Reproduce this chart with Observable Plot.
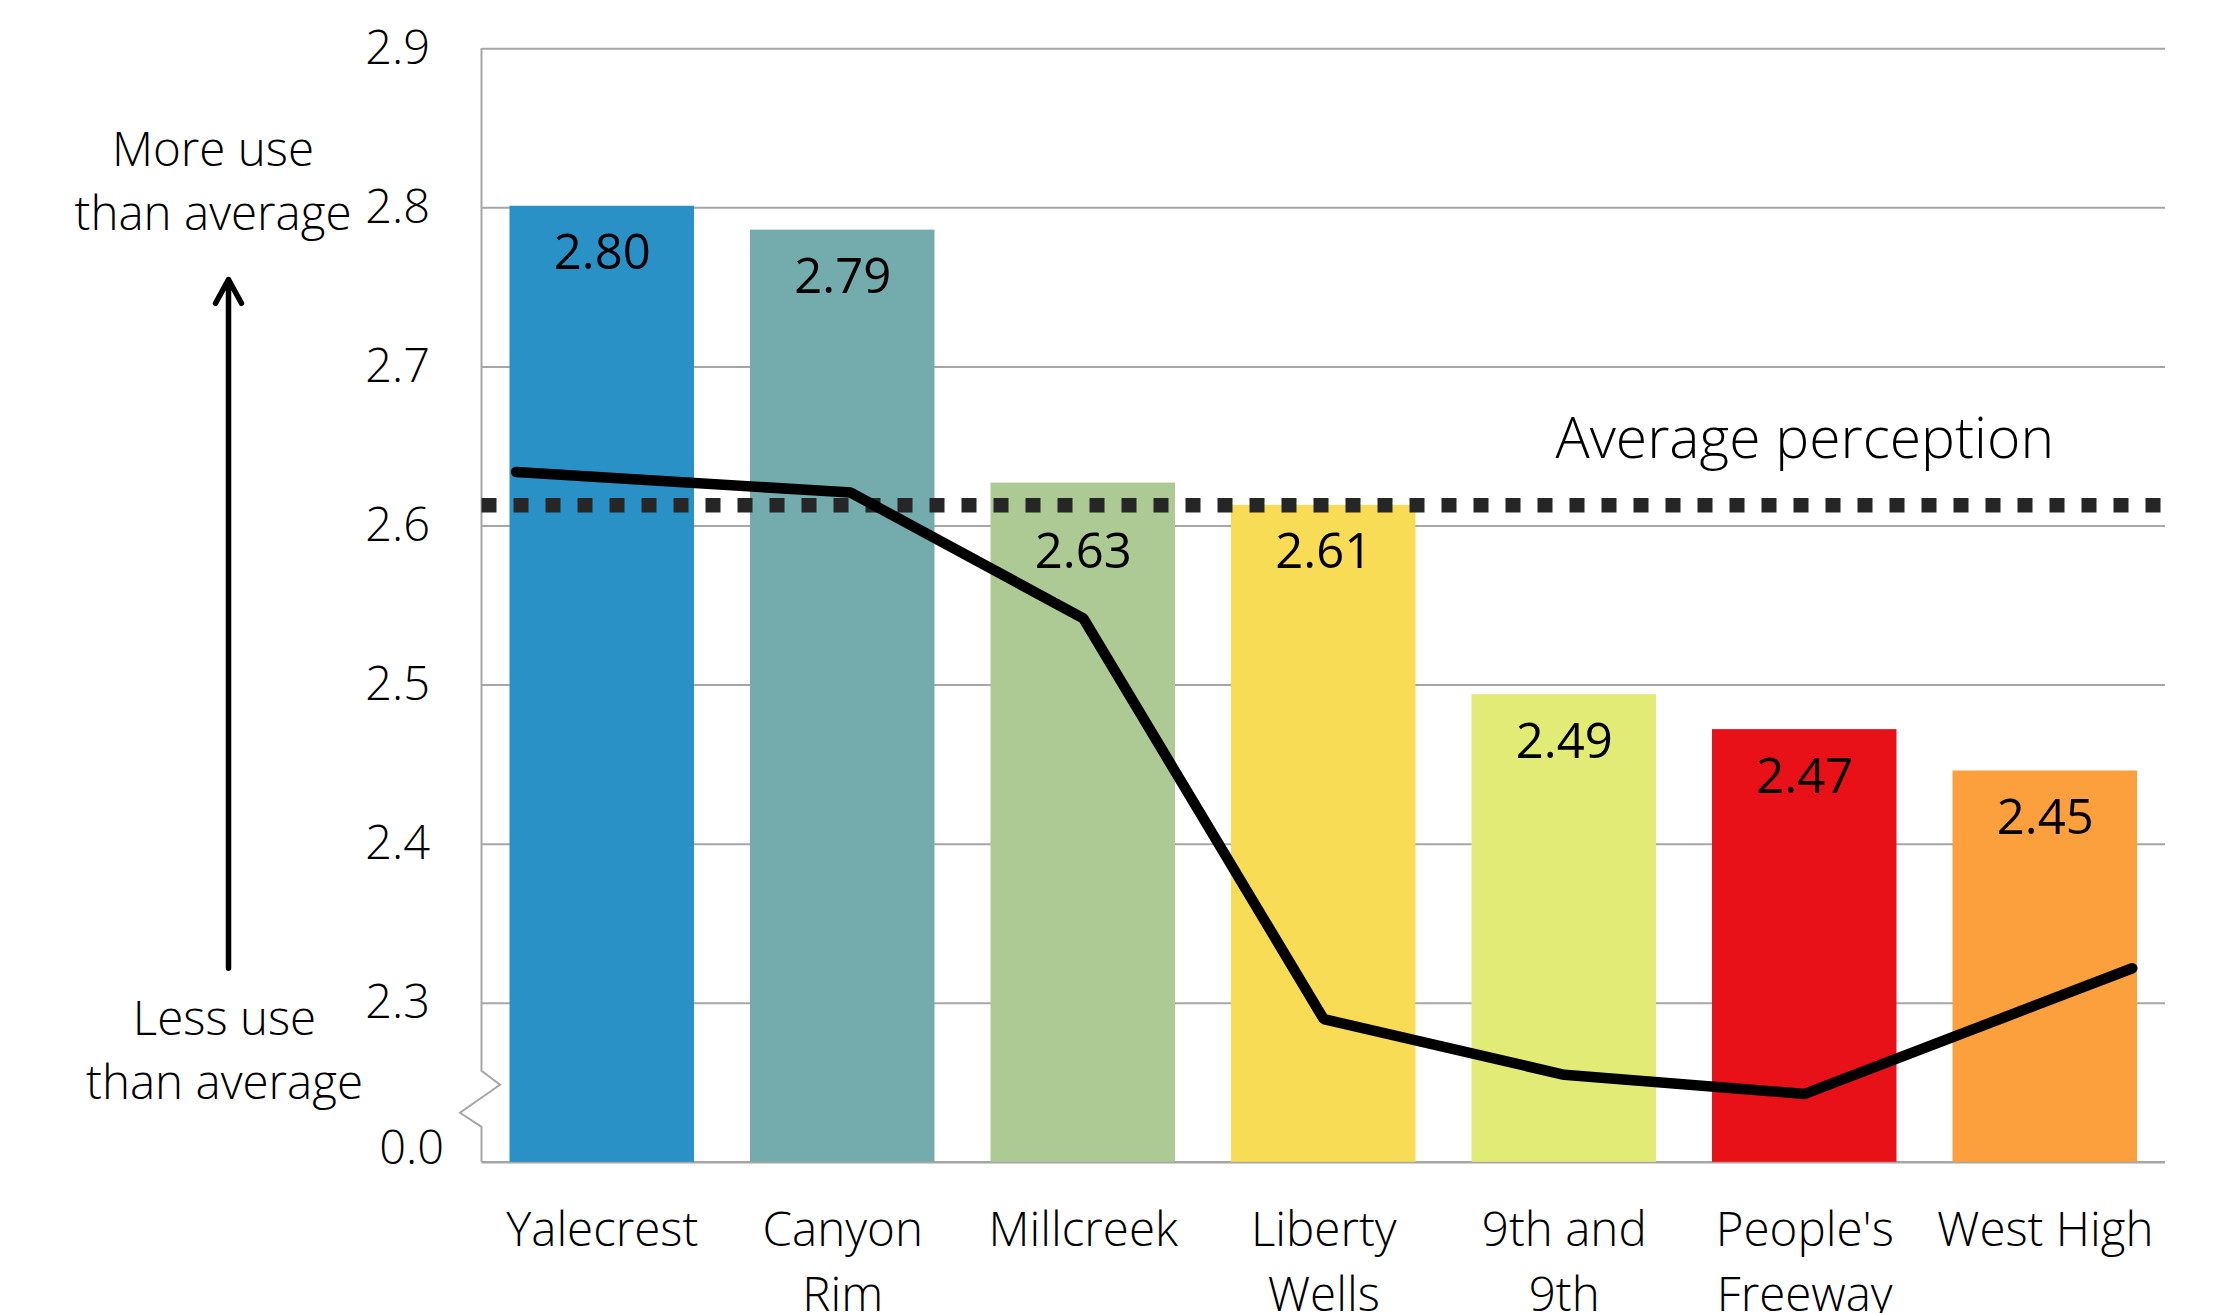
<!DOCTYPE html>
<html>
<head>
<meta charset="utf-8">
<script src="https://cdn.jsdelivr.net/npm/d3@7"></script>
<script src="https://cdn.jsdelivr.net/npm/@observablehq/plot@0.6"></script>
<style>
  html, body { margin: 0; padding: 0; background: #ffffff; }
  #chart svg { display: block; }
</style>
</head>
<body>
<div id="chart"></div>
<script>
// ---------- data ----------
const neighborhoods = ["Yalecrest", "Canyon Rim", "Millcreek", "Liberty Wells", "9th and 9th", "People's Freeway", "West High"];
const axisLabels = ["Yalecrest", "Canyon\nRim", "Millcreek", "Liberty\nWells", "9th and\n9th", "People's\nFreeway", "West High"];
const barValues = [2.801, 2.786, 2.627, 2.613, 2.494, 2.472, 2.446];
const barColors = ["#2991c6", "#74abac", "#adc994", "#f9dc56", "#e2eb75", "#e81117", "#fba03d"];
const lineValues = [2.634, 2.621, 2.542, 2.290, 2.255, 2.243, 2.322];
const linePositions = [-0.358, 1.033, 2, 3, 4, 5, 6.362];
const averagePerception = 2.613;
const averageLabel = "Average perception";
const yTicks = [2.3, 2.4, 2.5, 2.6, 2.7, 2.8, 2.9];
const yTickLabels = ["2.3", "2.4", "2.5", "2.6", "2.7", "2.8", "2.9"];
const yBreakValue = 2.2;
const yBreakLabel = "0.0";
const moreLabel = "More use\nthan average";
const lessLabel = "Less use\nthan average";
const moreLevel = 2.786;
const lessLevel = 2.240;
const arrowFrom = 2.322;
const arrowTo = 2.755;

// ---------- tables ----------
// value labels sit inside the bar top; a bar that only just clears the dotted
// average line gets its label placed below that line
const bars = neighborhoods.map((name, i) => {
  const v = barValues[i];
  const labelAt = (v > averagePerception && v - averagePerception < 0.05) ? averagePerception : v;
  return {i, name, value: v, labelAt, color: barColors[i]};
});
const linePts = lineValues.map((v, i) => ({x: linePositions[i], y: v}));
const tickIdx = neighborhoods.map((_, i) => i);

const FONT = "'Open Sans', 'Liberation Sans', sans-serif";
const GRID = "#a6a6a6";

// left axis line with a break (zig-zag) near the bottom
function leftAxisWithBreak(index, scales, values, dims) {
  const x0 = dims.marginLeft;
  const yTop = scales.y(yTicks[yTicks.length - 1]);
  const yBot = scales.y(yBreakValue);
  const p = d3.path();
  p.moveTo(x0, yTop);
  p.lineTo(x0, yBot - 91);
  p.lineTo(x0 + 18.5, yBot - 77);
  p.lineTo(x0 - 21.5, yBot - 49);
  p.lineTo(x0, yBot - 35);
  p.lineTo(x0, yBot);
  return d3.create("svg:path")
    .attr("d", p.toString())
    .attr("fill", "none")
    .attr("stroke", GRID)
    .attr("stroke-width", 2)
    .node();
}

const chart = Plot.plot({
  width: 2227,
  height: 1313,
  marginLeft: 481.5,
  marginRight: 62,
  marginTop: 48.3,
  marginBottom: 151.2,
  style: {fontFamily: FONT, color: "#000", background: "#fff", overflow: "visible"},
  x: {type: "linear", domain: [-0.5, 6.5], label: null},
  y: {domain: [2.2, 2.9], label: null},
  marks: [
    Plot.gridY(yTicks, {stroke: GRID, strokeOpacity: 1, strokeWidth: 2}),
    Plot.ruleY([yBreakValue], {stroke: GRID, strokeWidth: 2.5}),
    leftAxisWithBreak,
    Plot.rectY(bars, {
      x1: d => d.i - 0.5, x2: d => d.i + 0.5,
      y1: yBreakValue, y2: "value",
      fill: "color", insetLeft: 28, insetRight: 28
    }),
    Plot.ruleY([averagePerception], {stroke: "#262626", strokeWidth: 14.5, strokeDasharray: "15 17"}),
    Plot.line(linePts, {x: "x", y: "y", stroke: "#000", strokeWidth: 10.5, strokeLinecap: "round", strokeLinejoin: "miter"}),
    Plot.text(bars, {
      x: "i", y: "labelAt", text: d => d.value.toFixed(2),
      dy: 63, lineAnchor: "bottom", fontSize: 49, fontWeight: 400, fill: "#000"
    }),
    Plot.text([averageLabel], {
      x: 5, y: averagePerception, text: d => d,
      dy: -47, lineAnchor: "bottom", fontSize: 57, fontWeight: 300, fill: "#000"
    }),
    Plot.axisY(yTicks, {
      tickSize: 0, tickPadding: 52, fontSize: 47, fontWeight: 300, label: null,
      tickFormat: d => yTickLabels[yTicks.indexOf(d)]
    }),
    Plot.axisY([yBreakValue], {
      tickSize: 0, tickPadding: 38, dy: -13, fontSize: 47, fontWeight: 300, label: null,
      tickFormat: () => yBreakLabel
    }),
    Plot.axisX(tickIdx, {
      tickSize: 0, tickPadding: 37, fontSize: 47.5, fontWeight: 300, lineHeight: 1.37, label: null,
      tickFormat: i => axisLabels[i]
    }),
    Plot.text([moreLabel], {
      frameAnchor: "left", y: moreLevel, dx: -269, text: d => d,
      textAnchor: "middle", lineAnchor: "bottom", lineHeight: 1.35, fontSize: 47.5, fontWeight: 300, fill: "#000"
    }),
    Plot.text([lessLabel], {
      frameAnchor: "left", y: lessLevel, dx: -257.5, text: d => d,
      textAnchor: "middle", lineAnchor: "bottom", lineHeight: 1.35, fontSize: 47.5, fontWeight: 300, fill: "#000"
    }),
    Plot.arrow([0], {
      x1: -0.5, x2: -0.5, y1: arrowFrom, y2: arrowTo, dx: -253.5,
      stroke: "#000", strokeWidth: 5.5, headLength: 7.4, headAngle: 57
    })
  ]
});

document.getElementById("chart").appendChild(chart);
</script>
</body>
</html>
